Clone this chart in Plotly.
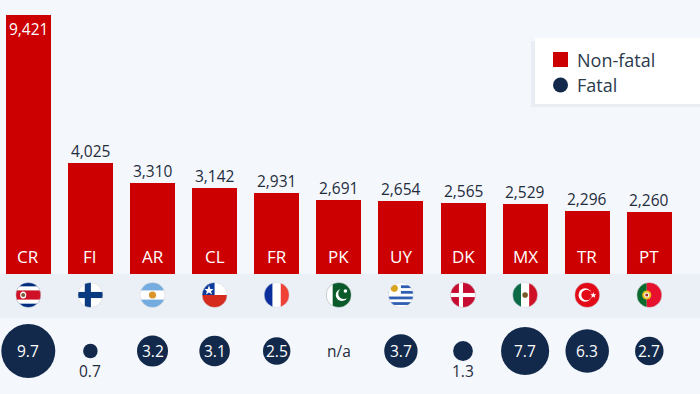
import base64
import plotly.graph_objects as go

codes = ["CR", "FI", "AR", "CL", "FR", "PK", "UY", "DK", "MX", "TR", "PT"]
non_fatal = [9421, 4025, 3310, 3142, 2931, 2691, 2654, 2565, 2529, 2296, 2260]
fatal = [9.7, 0.7, 3.2, 3.1, 2.5, None, 3.7, 1.3, 7.7, 6.3, 2.7]
fatal_labels = ["9.7", "0.7", "3.2", "3.1", "2.5", "n/a", "3.7", "1.3", "7.7", "6.3", "2.7"]

RED = "#cc0000"
NAVY = "#12294b"
BG = "#f4f7fb"
BAND = "#ebeff6"
INK = "#1f2d3d"
FONT = "Open Sans"
W, H = 700, 394
X0, STEP, BAR_W = 28.3, 62.1, 45
BASE_PX, TOP_PX = 274, 15


def rect(x, y, w, h, c):
    return f'<rect x="{x}" y="{y}" width="{w}" height="{h}" fill="{c}"/>'


flags = {
    "CR": rect(0, 0, 50, 50, "#002b7f") + rect(0, 8, 50, 34, "#fff") + rect(0, 16, 50, 18, "#ce1126")
    + '<ellipse cx="15" cy="25" rx="6" ry="7" fill="#fff"/><circle cx="15" cy="25" r="4" fill="#7a5a3a"/>',
    "FI": rect(0, 0, 50, 50, "#fff") + rect(0, 19, 50, 12, "#0a3a80") + rect(14, 0, 12, 50, "#0a3a80"),
    "AR": rect(0, 0, 50, 50, "#fff") + rect(0, 0, 50, 16, "#74acdf") + rect(0, 34, 50, 16, "#74acdf")
    + '<circle cx="25" cy="25" r="7" fill="#d9962b"/>',
    "CL": rect(0, 0, 50, 25, "#fff") + rect(0, 0, 25, 25, "#0a3a9a") + rect(0, 25, 50, 25, "#d52b1e")
    + '<polygon points="14,6 16.5,13 23,13 18,17.5 20,24 14,20 8,24 10,17.5 5,13 11.5,13" fill="#fff"/>',
    "FR": rect(0, 0, 17, 50, "#0a2f9c") + rect(17, 0, 16, 50, "#fff") + rect(33, 0, 17, 50, "#ef4135"),
    "PK": rect(0, 0, 50, 50, "#0b5a2a") + rect(0, 0, 13, 50, "#fff")
    + '<circle cx="31" cy="25" r="12" fill="#fff"/><circle cx="35" cy="22" r="11" fill="#0b5a2a"/>'
    + '<circle cx="38" cy="17" r="3.5" fill="#fff"/>',
    "UY": rect(0, 0, 50, 50, "#fff") + "".join(rect(0, y, 50, 5.5, "#2f5fb3") for y in (6, 17, 28, 39))
    + rect(0, 0, 25, 25, "#fff") + '<circle cx="12" cy="12" r="7" fill="#d9a520"/>',
    "DK": rect(0, 0, 50, 50, "#c60c30") + rect(0, 21, 50, 8, "#fff") + rect(17, 0, 8, 50, "#fff"),
    "MX": rect(0, 0, 17, 50, "#0b6b47") + rect(17, 0, 16, 50, "#fff") + rect(33, 0, 17, 50, "#ce1126")
    + '<circle cx="25" cy="25" r="5.5" fill="#7a5a2a"/>',
    "TR": rect(0, 0, 50, 50, "#e30a17") + '<circle cx="21" cy="25" r="13" fill="#fff"/>'
    + '<circle cx="24" cy="25" r="10.5" fill="#e30a17"/>'
    + '<polygon points="37,19 38.5,23.5 43,23.5 39.5,26.5 41,31 37,28 33,31 34.5,26.5 31,23.5 35.5,23.5" fill="#fff"/>',
    "PT": rect(0, 0, 20, 50, "#0b6b2e") + rect(20, 0, 30, 50, "#e8112d")
    + '<circle cx="20" cy="25" r="9" fill="#e8c020"/><circle cx="20" cy="25" r="5" fill="#fff"/>'
    + '<circle cx="20" cy="25" r="3" fill="#a52a2a"/>',
}


def flag_uri(code):
    svg = (
        '<svg xmlns="http://www.w3.org/2000/svg" width="50" height="50" viewBox="0 0 50 50">'
        '<defs><clipPath id="c"><circle cx="25" cy="25" r="24.5"/></clipPath></defs>'
        f'<g clip-path="url(#c)">{flags[code]}</g>'
        '<circle cx="25" cy="25" r="24.5" fill="none" stroke="#d0d4da" stroke-width="1"/></svg>'
    )
    return "data:image/svg+xml;base64," + base64.b64encode(svg.encode()).decode()


scale = (BASE_PX - TOP_PX) / max(non_fatal)

fig = go.Figure()
fig.add_trace(go.Bar(
    x=codes, y=non_fatal, width=BAR_W / STEP, marker=dict(color=RED, line_width=0),
    hoverinfo="skip", showlegend=False,
))
has_value = [v is not None for v in fatal]
shown_codes = [c for c, h in zip(codes, has_value) if h]
shown_values = [v for v in fatal if v is not None]
fig.add_trace(go.Scatter(
    x=shown_codes, y=[0] * len(shown_codes), yaxis="y2",
    mode="markers",
    marker=dict(color=NAVY, size=shown_values, sizemode="area", sizeref=2 * 9.7 / 54 ** 2,
                line_width=0, opacity=1),
    hoverinfo="skip", showlegend=False, cliponaxis=False,
))

annotations = [
    dict(x=c, y=0, yref="y", text=c, showarrow=False, yanchor="bottom", yshift=4,
         font=dict(family=FONT, size=17, color="#ffffff"))
    for c in codes
]
for i, (c, v) in enumerate(zip(codes, non_fatal)):
    inside = i == 0
    annotations.append(dict(
        x=c, y=v, yref="y", text=f"{v:,}", showarrow=False,
        yanchor="top" if inside else "bottom", yshift=-1,
        font=dict(family=FONT, size=15.5, color="#ffffff" if inside else INK),
    ))
for c, v, label in zip(codes, fatal, fatal_labels):
    on_circle = v is not None and v >= 2
    below = v is not None and v < 2
    annotations.append(dict(
        x=c, y=0, yref="y2", text=label, showarrow=False, yanchor="middle",
        yshift=-20 if below else 0,
        font=dict(family=FONT, size=15.5, color="#ffffff" if on_circle else INK),
    ))
for text, y in (("Non-fatal", 60), ("Fatal", 85)):
    annotations.append(dict(
        x=575 / W, y=1 - y / H, xref="paper", yref="paper", text=text, showarrow=False,
        xanchor="left", yanchor="middle", font=dict(family=FONT, size=18, color="#2b3a4c"),
    ))

images = [
    dict(source=flag_uri(c), xref="paper", yref="paper", x=(X0 + STEP * i) / W, y=1 - 295 / H,
         sizex=25.5 / W, sizey=25.5 / H, xanchor="center", yanchor="middle", layer="above")
    for i, c in enumerate(codes)
]


def px_rect(x0, y0, x1, y1, **kw):
    return dict(type="rect", xref="paper", yref="paper", x0=x0 / W, x1=x1 / W,
                y0=1 - y0 / H, y1=1 - y1 / H, line_width=0, **kw)


shapes = [
    px_rect(0, BASE_PX, W, 318, fillcolor=BAND, layer="below"),
    px_rect(531, 41, W, 107, fillcolor="#e9edf4", layer="below"),
    px_rect(535, 38, W, 104, fillcolor="#ffffff", layer="below"),
    px_rect(553, 52, 568, 67, fillcolor=RED, layer="above"),
    dict(type="circle", xref="paper", yref="paper", x0=553 / W, x1=568 / W,
         y0=1 - 92.5 / H, y1=1 - 77.5 / H, fillcolor=NAVY, line_width=0, layer="above"),
]

fig.update_layout(
    width=W, height=H, margin=dict(l=0, r=0, t=0, b=0), autosize=False,
    paper_bgcolor=BG, plot_bgcolor="rgba(0,0,0,0)",
    xaxis=dict(type="category", categoryorder="array", categoryarray=codes,
               range=[-X0 / STEP, (W - X0) / STEP], visible=False, fixedrange=True),
    yaxis=dict(range=[-(H - BASE_PX) / scale, BASE_PX / scale], visible=False, fixedrange=True),
    yaxis2=dict(domain=[0, 86 / H], range=[-1, 1], anchor="x",
                visible=False, fixedrange=True),
    annotations=annotations, shapes=shapes, images=images, showlegend=False,
    bargap=0,
)
fig.write_html(
    "out.html",
    config={"displayModeBar": False},
    post_script="document.body.style.margin='0';document.body.style.background='#f4f7fb';"
                "document.documentElement.style.overflow='hidden';",
)
